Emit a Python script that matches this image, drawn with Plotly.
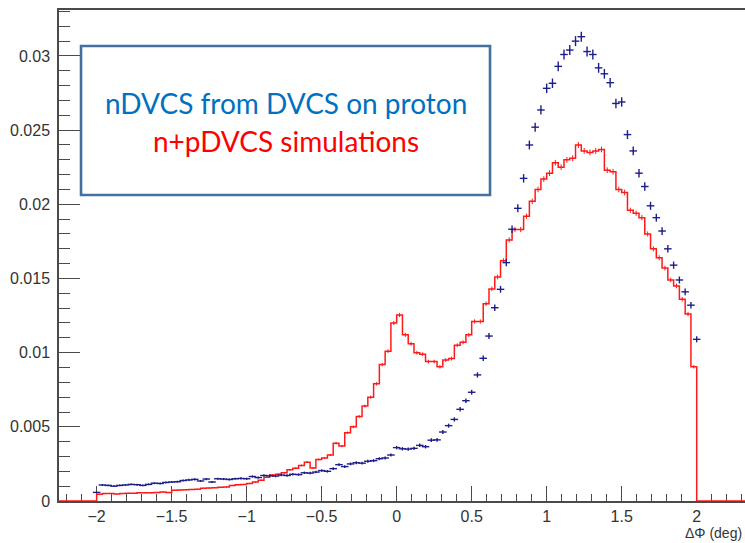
import numpy as np
import plotly.graph_objects as go

# ---- binning (deg) -------------------------------------------------------
X_LO, X_HI = -2.0, 2.0
N_BINS = 104                       # n+pDVCS histogram bins over [X_LO, X_HI]
X_AXIS_MIN, X_AXIS_MAX = -2.251, 2.322
Y_AXIS_MAX = 0.0331

# nDVCS from DVCS on proton: bin contents at centres X_LO + k*w, k = 0..104
ndvcs_vals = [
    0.00058, 0.00108, 0.00105, 0.00100, 0.00105, 0.00108, 0.00112, 0.00110, 0.00105, 0.00112, 0.00120, 0.00118, 0.00125,
    0.00128, 0.00130, 0.00138, 0.00142, 0.00146, 0.00135, 0.00148, 0.00128, 0.00150, 0.00148, 0.00145, 0.00150, 0.00152,
    0.00150, 0.00165, 0.00158, 0.00172, 0.00170, 0.00168, 0.00175, 0.00172, 0.00180, 0.00178, 0.00190, 0.00188, 0.00195,
    0.00205, 0.00200, 0.00218, 0.00245, 0.00232, 0.00250, 0.00258, 0.00255, 0.00268, 0.00272, 0.00285, 0.00290, 0.00310,
    0.00360, 0.00352, 0.00350, 0.00355, 0.00375, 0.00366, 0.00410, 0.00412, 0.00465, 0.00508, 0.00550, 0.00618, 0.00676, 0.00733,
    0.00850, 0.00962, 0.01112, 0.01303, 0.01427, 0.01607, 0.01832, 0.01973, 0.02175, 0.02400, 0.02520, 0.02636, 0.02782, 0.02816, 0.02930,
    0.03010, 0.03040, 0.03100, 0.03130, 0.03030, 0.03010, 0.02920, 0.02880, 0.02820, 0.02680, 0.02690, 0.02470,
    0.02360, 0.02210, 0.02120, 0.01990, 0.01910, 0.01820, 0.01700, 0.01590, 0.01490, 0.01410, 0.01320, 0.01090,
]

# n+pDVCS simulations: contents of the N_BINS histogram bins
npdvcs_vals = [
    0.00045, 0.00050, 0.00050, 0.00048, 0.00050, 0.00052, 0.00052, 0.00055, 0.00055, 0.00056, 0.00058, 0.00060, 0.00058,
    0.00072, 0.00074, 0.00075, 0.00078, 0.00080,
    0.00086, 0.00088, 0.00090, 0.00092, 0.00095,
    0.00105, 0.00110, 0.00112, 0.00118, 0.00128,
    0.00140, 0.00160,
    0.00175, 0.00180, 0.00190, 0.00210, 0.00220, 0.00240, 0.00262, 0.00222, 0.00280, 0.00290, 0.00310,
    0.00390, 0.00370, 0.00460, 0.00500, 0.00570, 0.00640, 0.00700, 0.00790, 0.00920, 0.01010, 0.01200, 0.01254,
    0.01120, 0.01060, 0.01000, 0.00990, 0.00940, 0.00940, 0.00905, 0.00950, 0.00960, 0.01050, 0.01070, 0.01120,
    0.01210, 0.01210, 0.01330, 0.01430, 0.01510, 0.01620, 0.01760, 0.01830, 0.01830, 0.01920, 0.02020, 0.02100,
    0.02170, 0.02210, 0.02280, 0.02250, 0.02300, 0.02310, 0.02400, 0.02360, 0.02350, 0.02360, 0.02370,
    0.02230, 0.02220, 0.02100, 0.02080, 0.01960, 0.01940, 0.01910, 0.01800, 0.01700, 0.01640, 0.01570, 0.01490,
    0.01450, 0.01360, 0.01260, 0.00905,
]

# statistical scale (effective entries per unit normalised content)
NDVCS_ENTRIES = 2.7e5
NPDVCS_ENTRIES = 6.0e5

x_ticks = [-2, -1.5, -1, -0.5, 0, 0.5, 1, 1.5, 2]
x_tick_text = ["\u22122", "\u22121.5", "\u22121", "\u22120.5", "0", "0.5", "1", "1.5", "2"]
y_ticks = [0, 0.005, 0.01, 0.015, 0.02, 0.025, 0.03]
y_tick_text = ["0", "0.005", "0.01", "0.015", "0.02", "0.025", "0.03"]

BLUE = "#1e1e8a"
RED = "#ff1a1a"
AXIS_COL = "#4a4a4a"
ROOT_FONT = "Liberation Sans, Arial, Helvetica"
TICK_FONT = dict(family=ROOT_FONT, size=16, color="#333333")
BOX_FONT = "Lato, Open Sans"

# ---- derived arrays ------------------------------------------------------
w = (X_HI - X_LO) / N_BINS
blue_v = np.array(ndvcs_vals)
blue_x = X_LO + w * np.arange(len(blue_v))
blue_err = np.sqrt(blue_v / NDVCS_ENTRIES)

red_v = np.array(npdvcs_vals)
edges = X_LO + w * np.arange(N_BINS + 1)
centres = 0.5 * (edges[:-1] + edges[1:])
red_err = np.sqrt(red_v / NPDVCS_ENTRIES)

# step outline, including the empty region outside [X_LO, X_HI]
step_x = np.concatenate([[X_AXIS_MIN], edges[:-1], [X_HI, X_AXIS_MAX]])
step_y = np.concatenate([[0.0], red_v, [0.0, 0.0]])

fig = go.Figure()

fig.add_trace(go.Scatter(
    x=step_x, y=step_y, mode="lines", line=dict(color=RED, width=1.5, shape="hv"),
    hoverinfo="skip", showlegend=False,
))
fig.add_trace(go.Scatter(
    x=centres, y=red_v, mode="markers", marker=dict(size=1, color=RED),
    error_y=dict(type="data", array=red_err, color=RED, thickness=1, width=0),
    showlegend=False,
))
fig.add_trace(go.Scatter(
    x=blue_x, y=blue_v, mode="markers", marker=dict(size=1, color=BLUE),
    error_x=dict(type="constant", value=w / 2 + 0.006, color=BLUE, thickness=1.4, width=0),
    error_y=dict(type="data", array=blue_err, color=BLUE, thickness=1.4, width=0),
    showlegend=False,
))

# ---- label box ------------------------------------------------------------
fig.add_shape(type="rect", xref="paper", yref="paper",
              x0=0.0321, x1=0.6283, y0=0.6232, y1=0.9267,
              line=dict(color="#41719c", width=2.6), fillcolor="white", layer="above")
fig.add_annotation(xref="paper", yref="paper", x=0.331, y=0.8106, xanchor="center", yanchor="middle",
                   text="nDVCS from DVCS on proton",
                   showarrow=False, font=dict(family=BOX_FONT, size=28, color="#0070c0"))
fig.add_annotation(xref="paper", yref="paper", x=0.331, y=0.7332, xanchor="center", yanchor="middle",
                   text="n+pDVCS simulations",
                   showarrow=False, font=dict(family=BOX_FONT, size=28, color="#ff0000"))

# axis title, right-aligned at the end of the x axis
fig.add_annotation(xref="paper", yref="paper", x=0.998, y=-0.066, xanchor="right", yanchor="middle",
                   text="\u0394\u03a6 (deg)", showarrow=False,
                   font=dict(family=ROOT_FONT, size=14, color="#333333"))

fig.update_xaxes(
    range=[X_AXIS_MIN, X_AXIS_MAX], showgrid=False, zeroline=False,
    showline=True, linecolor=AXIS_COL, linewidth=1.5, mirror=True,
    tickmode="array", tickvals=x_ticks, ticktext=x_tick_text,
    ticks="inside", ticklen=15, tickwidth=1.3, tickcolor=AXIS_COL,
    minor=dict(ticks="inside", ticklen=7, tickwidth=1.2, tickcolor=AXIS_COL, dtick=0.1, tick0=0, showgrid=False),
    tickfont=TICK_FONT, ticklabelstandoff=0, layer="below traces", automargin=False,
)
fig.update_yaxes(
    range=[0, Y_AXIS_MAX], showgrid=False, zeroline=False,
    showline=True, linecolor=AXIS_COL, linewidth=1.5, mirror=True,
    tickmode="array", tickvals=y_ticks, ticktext=y_tick_text,
    ticks="inside", ticklen=21, tickwidth=1.3, tickcolor=AXIS_COL,
    minor=dict(ticks="inside", ticklen=11, tickwidth=1.2, tickcolor=AXIS_COL, dtick=0.001, tick0=0, showgrid=False),
    tickfont=TICK_FONT, ticklabelstandoff=4, layer="below traces", automargin=False,
)

fig.update_layout(
    width=745, height=543,
    margin=dict(l=59, r=0, t=10, b=42),
    paper_bgcolor="white", plot_bgcolor="white",
    showlegend=False,
)

fig.write_html("out.html")
